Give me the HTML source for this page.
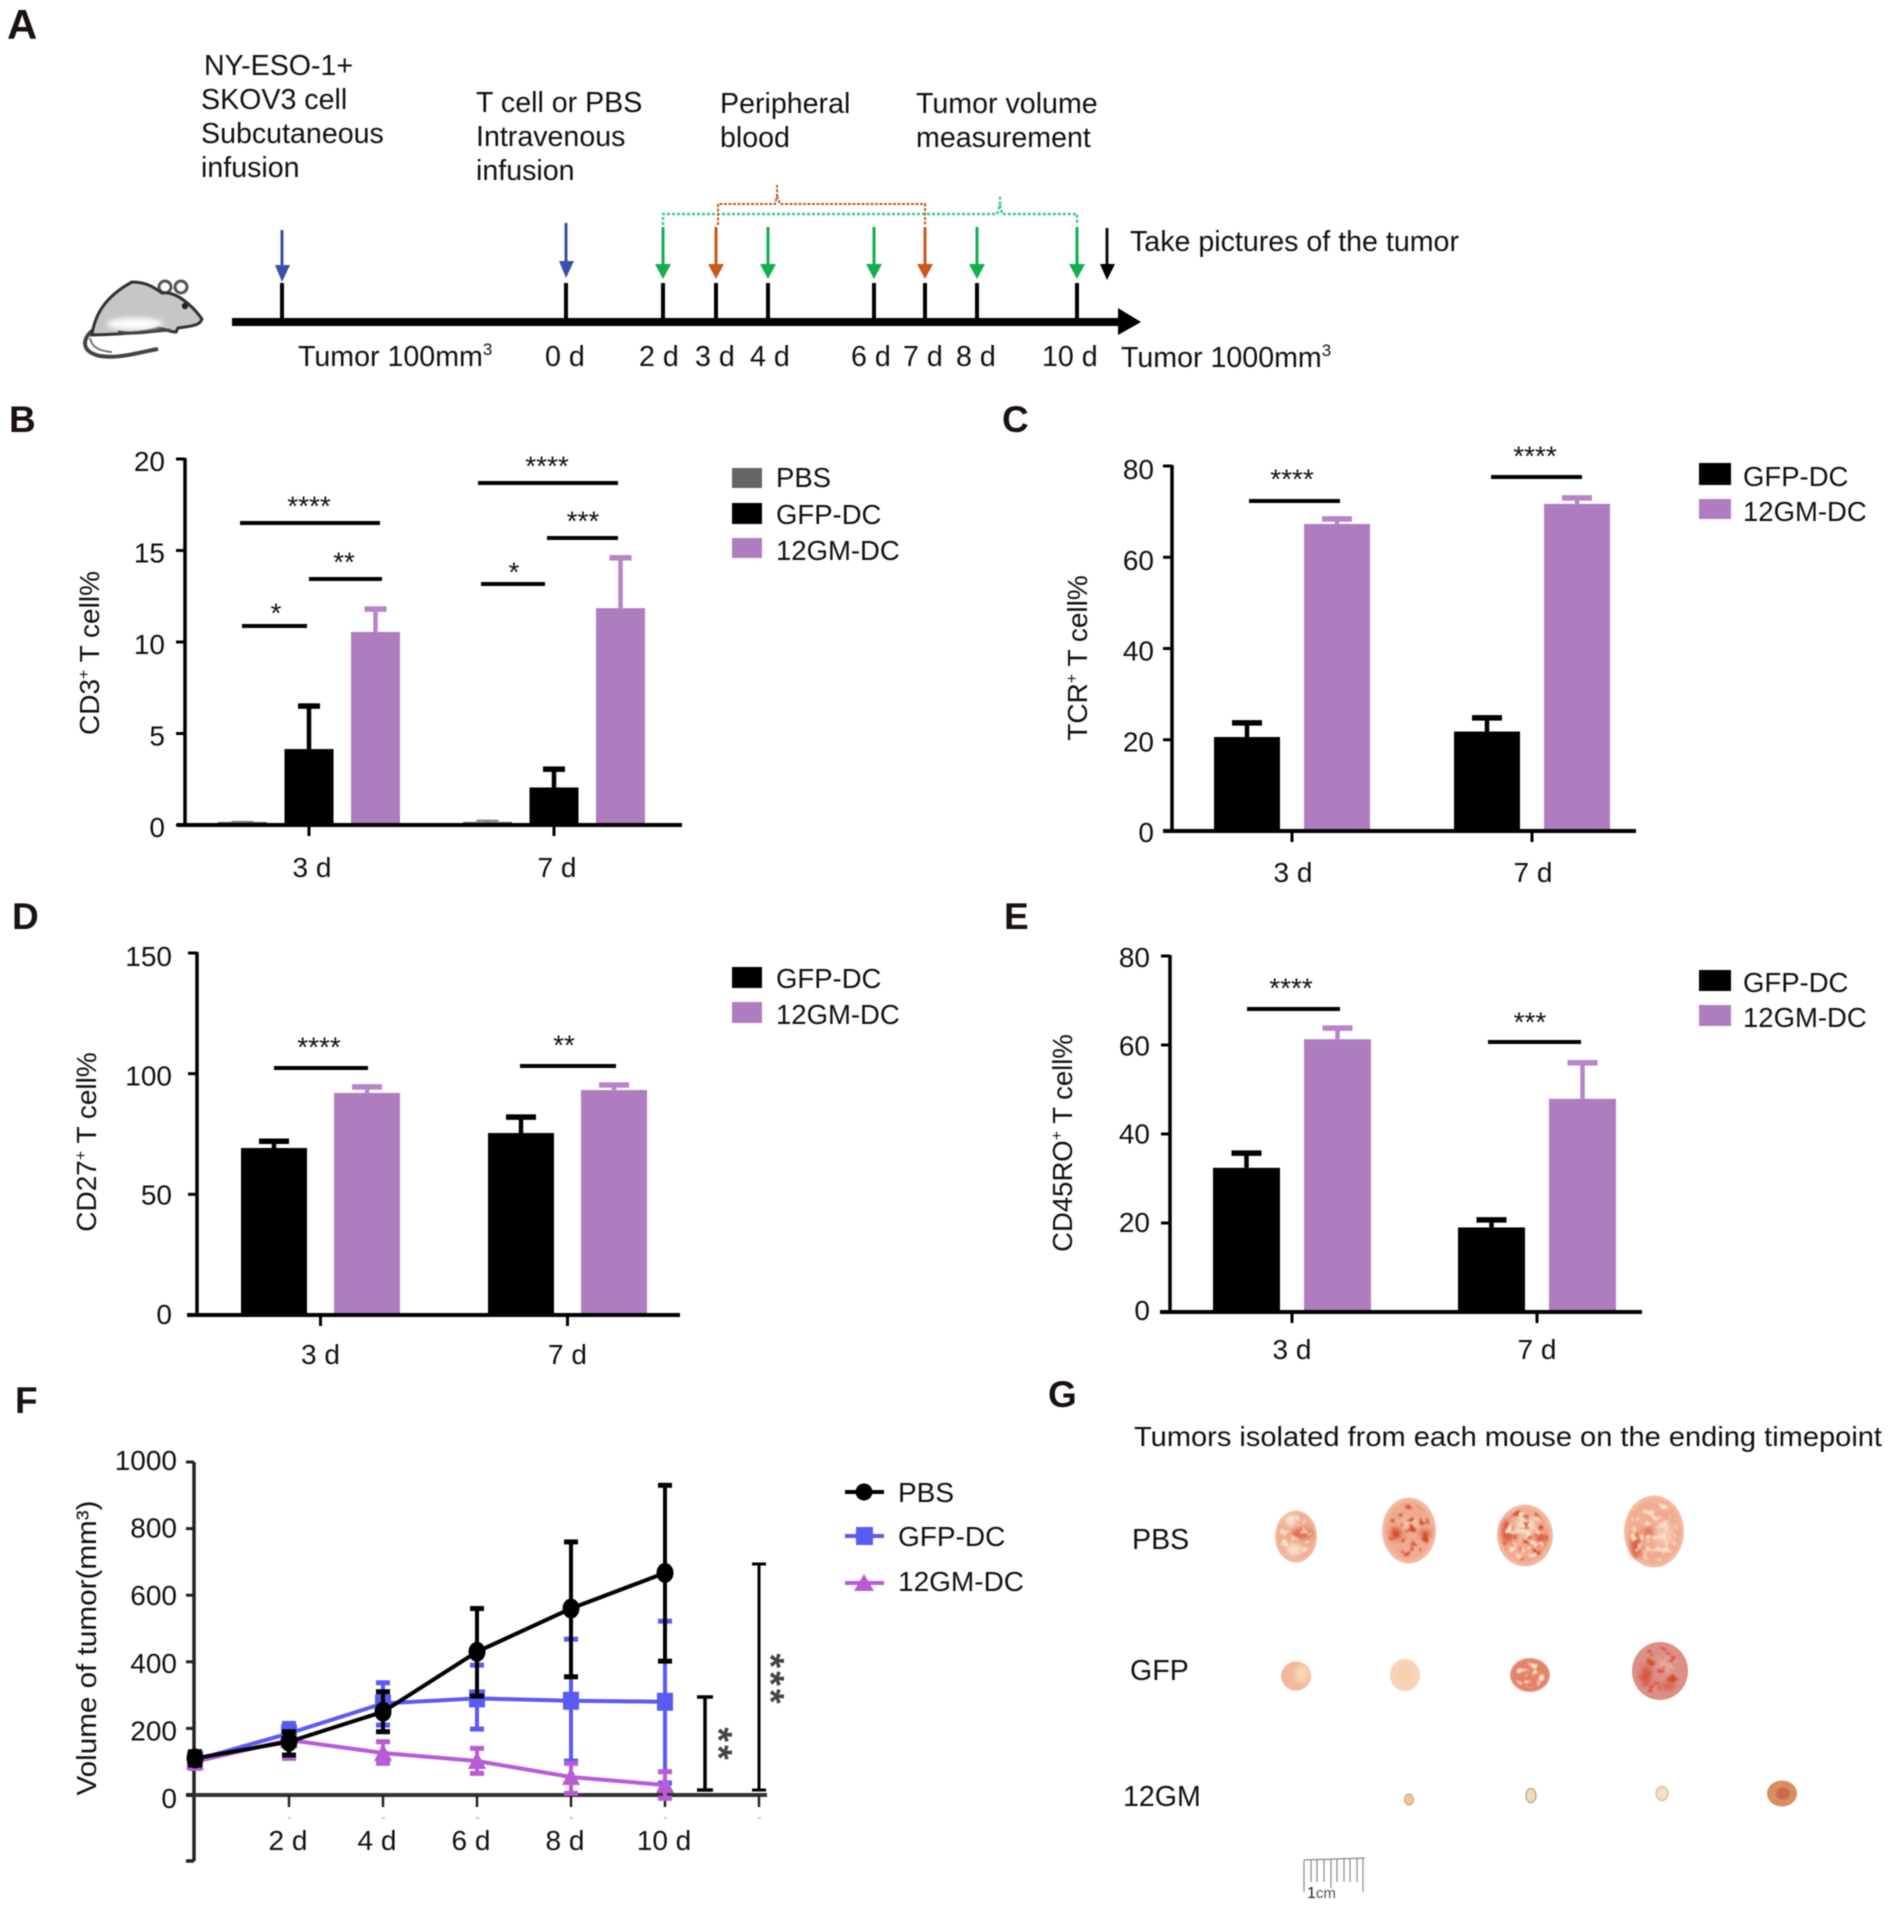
<!DOCTYPE html>
<html lang="en">
<head>
<meta charset="utf-8">
<title>Tumor response figure</title>
<style>
html,body{margin:0;padding:0;background:#fff;width:1890px;height:1914px;overflow:hidden}
svg{display:block;font-family:"Liberation Sans",Arial,sans-serif;fill:#111;filter:blur(0.4px)}
.panel{font-weight:bold;font-size:37px;fill:#1a1210}
.t{font-size:28.6px}
.leg{font-size:27.5px}
.ti{font-size:28px}
.st{font-size:28px;text-anchor:middle}
.sig{stroke:#000;stroke-width:4}
</style>
</head>
<body>
<svg id="fig" xmlns="http://www.w3.org/2000/svg" width="1890" height="1914" viewBox="0 0 1890 1914">
<defs>
<radialGradient id="tg" cx="50%" cy="50%" r="55%"><stop offset="0" stop-color="#f2a98f"/><stop offset="0.75" stop-color="#f0ab92"/><stop offset="1" stop-color="#f8cdb8"/></radialGradient>
<radialGradient id="tp" cx="50%" cy="50%" r="55%"><stop offset="0" stop-color="#f8cfa8"/><stop offset="1" stop-color="#f9d3bf"/></radialGradient>
<radialGradient id="td" cx="50%" cy="50%" r="55%"><stop offset="0" stop-color="#e67f66"/><stop offset="0.8" stop-color="#e2856f"/><stop offset="1" stop-color="#eeb09f"/></radialGradient>
<filter id="bl" x="-30%" y="-30%" width="160%" height="160%"><feGaussianBlur stdDeviation="2.6"/></filter>
<filter id="bs" x="-30%" y="-30%" width="160%" height="160%"><feGaussianBlur stdDeviation="0.8"/></filter>
<filter id="mr" x="0" y="0" width="100%" height="100%" color-interpolation-filters="sRGB"><feTurbulence type="fractalNoise" baseFrequency="0.13" numOctaves="3" seed="7"/><feColorMatrix type="matrix" values="0 0 0 0 .82 0 0 0 0 .30 0 0 0 0 .18 7 0 0 0 -3.9"/><feComposite in2="SourceAlpha" operator="in"/><feGaussianBlur stdDeviation="0.7"/></filter>
<filter id="mc" x="0" y="0" width="100%" height="100%" color-interpolation-filters="sRGB"><feTurbulence type="fractalNoise" baseFrequency="0.16" numOctaves="3" seed="23"/><feColorMatrix type="matrix" values="0 0 0 0 .98 0 0 0 0 .88 0 0 0 0 .78 7 0 0 0 -3.7"/><feComposite in2="SourceAlpha" operator="in"/><feGaussianBlur stdDeviation="0.7"/></filter>
</defs>

<!-- Panel A -->
<g id="panel-a">
<text class="panel" style="font-size:42px" x="7" y="39">A</text>
<text class="t" x="204" y="75">NY-ESO-1+</text>
<text class="t" x="201" y="109">SKOV3 cell</text>
<text class="t" x="201" y="143">Subcutaneous</text>
<text class="t" x="201" y="177">infusion</text>
<text class="t" x="476" y="112">T cell or PBS</text>
<text class="t" x="476" y="146">Intravenous</text>
<text class="t" x="476" y="180">infusion</text>
<text class="t" x="720" y="113">Peripheral</text>
<text class="t" x="720" y="147">blood</text>
<text class="t" x="916" y="113">Tumor volume</text>
<text class="t" x="916" y="147">measurement</text>
<text class="t" x="1130" y="251">Take pictures of the tumor</text>

<g>
<path d="M93,330 C81,340 82,352 100,356 C120,359 140,352 158,349" fill="none" stroke="#444" stroke-width="4"/>
<path d="M90,338 C92,348 100,351 112,352" fill="none" stroke="#777" stroke-width="2"/>
<circle cx="165" cy="287" r="6" fill="#fff" stroke="#555" stroke-width="3"/>
<circle cx="181" cy="287" r="6" fill="#fff" stroke="#555" stroke-width="3"/>
<path d="M92,335 C95,312 108,295 132,282 C147,282 155,288 162,293 C176,291 192,305 202,319 C200,326 190,326 178,328 L176,332 C170,332 165,329 158,328 C145,333 120,334 92,335 Z" fill="#c6c6c6" stroke="#333" stroke-width="3"/>
<ellipse cx="135" cy="324" rx="28" ry="6" fill="#fff" filter="url(#bl)"/>
<path d="M118,332 C135,335 150,331 170,330" fill="none" stroke="#444" stroke-width="3"/>
<circle cx="185" cy="306" r="3.2" fill="#222"/>
</g>

<rect x="232" y="318" width="890" height="8" fill="#000"/>
<polygon points="1118,308 1141,322 1118,335" fill="#000"/>
<g stroke="#000" stroke-width="4">
<line x1="282" x2="282" y1="283" y2="320"/><line x1="566" x2="566" y1="283" y2="320"/><line x1="663" x2="663" y1="283" y2="320"/><line x1="716" x2="716" y1="283" y2="320"/><line x1="768" x2="768" y1="283" y2="320"/><line x1="874" x2="874" y1="283" y2="320"/><line x1="925" x2="925" y1="283" y2="320"/><line x1="977" x2="977" y1="283" y2="320"/><line x1="1077" x2="1077" y1="283" y2="320"/>
</g>
<g fill="#3a4fa8" stroke="none">
<rect x="280.5" y="230" width="3" height="42"/><polygon points="275,265 290,265 282,282"/>
<rect x="564.5" y="223" width="3" height="42"/><polygon points="559,261 574,261 566,278"/>
</g>
<g fill="#13ae4f" stroke="none">
<rect x="661.5" y="227" width="3" height="42"/><polygon points="655,264 671,264 663,279"/>
<rect x="766.5" y="227" width="3" height="42"/><polygon points="760,264 776,264 768,279"/>
<rect x="872.5" y="227" width="3" height="42"/><polygon points="866,264 882,264 874,279"/>
<rect x="975.5" y="227" width="3" height="42"/><polygon points="969,264 985,264 977,279"/>
<rect x="1075.5" y="227" width="3" height="42"/><polygon points="1069,264 1085,264 1077,279"/>
</g>
<g fill="#c8591a" stroke="none">
<rect x="714.5" y="227" width="3" height="42"/><polygon points="708,264 724,264 716,279"/>
<rect x="923.5" y="227" width="3" height="42"/><polygon points="917,264 933,264 925,279"/>
</g>
<g><rect x="1105.5" y="228" width="3" height="40"/><polygon points="1100,264 1115,264 1107,280" fill="#000"/></g>
<path d="M663,225 V214 H997 L1000,205 V197 M1000,205 L1002,214 H1077 V225" fill="none" stroke="#3cc88a" stroke-width="2.4" stroke-dasharray="3 2"/>
<path d="M718,225 V204 H775 L777,196 V185 M777,196 L780,204 H925 V225" fill="none" stroke="#c85a1a" stroke-width="2" stroke-dasharray="3 1.5"/>

<text class="t" x="298" y="366">Tumor 100mm<tspan font-size="17" dy="-11">3</tspan></text>
<text class="t" x="545" y="366">0 d</text>
<text class="t" x="639" y="366">2 d</text>
<text class="t" x="695" y="366">3 d</text>
<text class="t" x="750" y="366">4 d</text>
<text class="t" x="851" y="366">6 d</text>
<text class="t" x="903" y="366">7 d</text>
<text class="t" x="956" y="366">8 d</text>
<text class="t" x="1042" y="366">10 d</text>
<text class="t" x="1121" y="367">Tumor 1000mm<tspan font-size="17" dy="-11">3</tspan></text>
</g>

<!-- Panel labels -->
<text class="panel" x="9" y="432">B</text>
<text class="panel" x="1002" y="432">C</text>
<text class="panel" x="12" y="929">D</text>
<text class="panel" x="1004" y="929">E</text>
<text class="panel" x="15" y="1413">F</text>
<text class="panel" x="1048" y="1407">G</text>

<!-- Panel B static -->
<g id="chart-b">
<text class="ti" transform="translate(99,653) rotate(-90)" text-anchor="middle">CD3<tspan font-size="16" dy="-10">+</tspan><tspan dy="10"> T cell%</tspan></text>
<g>
<line class="sig" x1="240" x2="380" y1="523" y2="523"/><text class="st" x="309" y="515.5">****</text>
<line class="sig" x1="309" x2="382" y1="579" y2="579"/><text class="st" x="344" y="571.5">**</text>
<line class="sig" x1="242" x2="307" y1="626" y2="626"/><text class="st" x="276" y="622.5">*</text>
<line class="sig" x1="478" x2="618" y1="483" y2="483"/><text class="st" x="547" y="475.5">****</text>
<line class="sig" x1="547" x2="618" y1="538" y2="538"/><text class="st" x="583" y="530.5">***</text>
<line class="sig" x1="481" x2="545" y1="584" y2="584"/><text class="st" x="514" y="581.5">*</text>
</g>
<g>
<rect x="732" y="468" width="30" height="20" fill="#666"/><text class="leg" x="776" y="487">PBS</text>
<rect x="732" y="503" width="30" height="21" fill="#000"/><text class="leg" x="776" y="524">GFP-DC</text>
<rect x="732" y="538" width="30" height="20" fill="#b07cc0"/><text class="leg" x="776" y="560">12GM-DC</text>
</g>
</g>

<!-- Panel C static -->
<g id="chart-c">
<text class="ti" font-size="28.5" transform="translate(1087,658) rotate(-90)" text-anchor="middle">TCR<tspan font-size="16" dy="-10">+</tspan><tspan dy="10"> T cell%</tspan></text>
<g>
<line class="sig" x1="1249" x2="1340" y1="501" y2="501"/><text class="st" x="1292" y="488.5">****</text>
<line class="sig" x1="1491" x2="1582" y1="477" y2="477"/><text class="st" x="1535" y="465.5">****</text>
</g>
<g>
<rect x="1699" y="463" width="32" height="22" fill="#000"/><text class="leg" x="1743" y="486">GFP-DC</text>
<rect x="1699" y="499" width="32" height="20" fill="#b07cc0"/><text class="leg" x="1743" y="521">12GM-DC</text>
</g>
</g>

<!-- Panel D static -->
<g id="chart-d">
<text class="ti" transform="translate(96,1142) rotate(-90)" text-anchor="middle">CD27<tspan font-size="16" dy="-10">+</tspan><tspan dy="10"> T cell%</tspan></text>
<g>
<line class="sig" x1="274" x2="368" y1="1068" y2="1068"/><text class="st" x="319" y="1056.5">****</text>
<line class="sig" x1="520" x2="616" y1="1066" y2="1066"/><text class="st" x="564" y="1054.5">**</text>
</g>
<g>
<rect x="732" y="967" width="30" height="21" fill="#000"/><text class="leg" x="776" y="988">GFP-DC</text>
<rect x="732" y="1002" width="30" height="21" fill="#b07cc0"/><text class="leg" x="776" y="1024">12GM-DC</text>
</g>
</g>

<!-- Panel E static -->
<g id="chart-e">
<text class="ti" style="font-size:27.5px" transform="translate(1072,1143) rotate(-90)" text-anchor="middle">CD45RO<tspan font-size="16" dy="-10">+</tspan><tspan dy="10"> T cell%</tspan></text>
<g>
<line class="sig" x1="1247" x2="1340" y1="1009" y2="1009"/><text class="st" x="1291" y="997.5">****</text>
<line class="sig" x1="1488" x2="1581" y1="1042" y2="1042"/><text class="st" x="1530" y="1031.5">***</text>
</g>
<g>
<rect x="1699" y="970" width="32" height="21" fill="#000"/><text class="leg" x="1743" y="992">GFP-DC</text>
<rect x="1699" y="1005" width="32" height="21" fill="#b07cc0"/><text class="leg" x="1743" y="1027">12GM-DC</text>
</g>
</g>

<!-- Panel F static -->
<g id="chart-f">
<text transform="translate(96,1648) rotate(-90)" text-anchor="middle" font-size="28" textLength="295" lengthAdjust="spacingAndGlyphs">Volume of tumor(mm³)</text>
<g>
<path d="M697,1697 H713 M705,1697 V1790 M697,1790 H713" fill="none" stroke="#000" stroke-width="3.5"/>
<path d="M752,1564 H766 M759,1564 V1790 M752,1790 H766" fill="none" stroke="#000" stroke-width="3"/>
<text font-size="38" letter-spacing="3" fill="#444" font-weight="bold" text-anchor="middle" transform="translate(706,1745) rotate(90)" y="0">**</text>
<text font-size="38" letter-spacing="3" fill="#444" font-weight="bold" text-anchor="middle" transform="translate(758,1680) rotate(90)" y="0">***</text>
</g>
<g>
<line x1="845" x2="884" y1="1492" y2="1492" stroke="#000" stroke-width="4"/><circle cx="864" cy="1492" r="8.5" fill="#000"/><text font-size="28" x="898" y="1502">PBS</text>
<line x1="845" x2="884" y1="1536" y2="1536" stroke="#5a5af5" stroke-width="4"/><rect x="856" y="1527" width="17" height="18" fill="#5a5af5"/><text font-size="28" x="898" y="1546">GFP-DC</text>
<line x1="845" x2="884" y1="1583" y2="1583" stroke="#b85cd6" stroke-width="4"/><polygon points="864,1574 874,1591 854,1591" fill="#b85cd6"/><text font-size="28" x="898" y="1591">12GM-DC</text>
</g>
</g>

<!-- Panel G -->
<g id="panel-g">
<text x="1134" y="1446" font-size="28" textLength="748" lengthAdjust="spacingAndGlyphs">Tumors isolated from each mouse on the ending timepoint</text>
<text class="t" x="1132" y="1549">PBS</text>
<text class="t" x="1130" y="1680">GFP</text>
<text class="t" x="1123" y="1806">12GM</text>

<g transform="translate(0,3.5)">
<g><ellipse cx="1296" cy="1533" rx="21" ry="26" fill="url(#tg)"/><g filter="url(#bl)"><ellipse cx="1302" cy="1530" rx="11" ry="5" fill="#d9502f" opacity=".8"/><ellipse cx="1294" cy="1546" rx="8" ry="6" fill="#f8e0c8"/><ellipse cx="1291" cy="1517" rx="6" ry="6" fill="#f8dcc0"/></g><ellipse cx="1296" cy="1533" rx="17" ry="22" filter="url(#mc)"/></g>
<g><ellipse cx="1409" cy="1527" rx="27" ry="33" fill="url(#tg)"/><g filter="url(#bl)"><ellipse cx="1396" cy="1530" rx="6" ry="6" fill="#d44a2b" opacity=".85"/><ellipse cx="1425" cy="1530" rx="6" ry="4" fill="#d9562f" opacity=".85"/><ellipse cx="1410" cy="1520" rx="8" ry="5" fill="#f5c8a8"/></g><ellipse cx="1409" cy="1527" rx="21" ry="27" filter="url(#mr)"/></g>
<g><ellipse cx="1525" cy="1532" rx="28" ry="31" fill="url(#tg)"/><g filter="url(#bl)"><ellipse cx="1507" cy="1528" rx="5" ry="12" fill="#d6452a" opacity=".85"/><ellipse cx="1541" cy="1535" rx="5" ry="7" fill="#d9482b" opacity=".85"/><ellipse cx="1525" cy="1522" rx="10" ry="9" fill="#f8dcc0"/></g><ellipse cx="1525" cy="1532" rx="23" ry="26" filter="url(#mr)"/><ellipse cx="1525" cy="1532" rx="20" ry="24" filter="url(#mc)"/></g>
<g><ellipse cx="1654" cy="1528" rx="30" ry="36" fill="url(#tg)"/><g filter="url(#bl)"><ellipse cx="1636" cy="1542" rx="5" ry="13" fill="#d44a2b" opacity=".85"/><ellipse cx="1650" cy="1528" rx="7" ry="4" fill="#da5a3a" opacity=".8"/><ellipse cx="1664" cy="1530" rx="10" ry="13" fill="#f5c5b0"/></g><ellipse cx="1654" cy="1528" rx="24" ry="30" filter="url(#mc)"/></g>
</g>
<g transform="translate(0,6)">
<g><ellipse cx="1296" cy="1670" rx="15" ry="14.5" fill="#f3b7a0"/><ellipse cx="1302" cy="1668" rx="7" ry="9" fill="#f9d9b0" filter="url(#bl)"/></g>
<g><ellipse cx="1405" cy="1669" rx="15" ry="16" fill="url(#tp)"/></g>
<g><ellipse cx="1530" cy="1669" rx="20" ry="17" fill="url(#td)"/><ellipse cx="1530" cy="1669" rx="15" ry="13" filter="url(#mc)"/></g>
<g><ellipse cx="1660" cy="1665" rx="28" ry="29" fill="#dd8f86"/><g filter="url(#bl)"><ellipse cx="1646" cy="1670" rx="5" ry="10" fill="#d44a33" opacity=".85"/><ellipse cx="1668" cy="1680" rx="7" ry="4" fill="#d9573d" opacity=".85"/><ellipse cx="1667" cy="1658" rx="9" ry="8" fill="#e9a89c"/></g><ellipse cx="1660" cy="1665" rx="23" ry="24" filter="url(#mr)"/></g>
</g>
<g transform="translate(0,8.5)">
<g><ellipse cx="1409" cy="1791" rx="4.5" ry="5.5" fill="#e8c89c" stroke="#d4a876" stroke-width="1.2"/></g>
<g><ellipse cx="1531" cy="1787" rx="5" ry="7" fill="#ecdcc0" stroke="#c8a888" stroke-width="1.4"/></g>
<g><ellipse cx="1662" cy="1785" rx="6" ry="7" fill="#f0e0c8" stroke="#d8bc94" stroke-width="1.2"/></g>
<g><ellipse cx="1782" cy="1785" rx="15" ry="13" fill="#d98e62"/><ellipse cx="1783" cy="1785" rx="7" ry="6" fill="#c96a4a" filter="url(#bs)"/></g>
</g>

<g stroke="#8a8a8a" stroke-width="1.2" transform="translate(0,10)">
<line x1="1304" x2="1365" y1="1850" y2="1848"/>
<line x1="1304" x2="1304" y1="1850" y2="1882"/><line x1="1311" x2="1311" y1="1850" y2="1872"/><line x1="1317" x2="1317" y1="1850" y2="1872"/><line x1="1324" x2="1324" y1="1849" y2="1872"/><line x1="1331" x2="1331" y1="1849" y2="1878"/><line x1="1337" x2="1337" y1="1849" y2="1872"/><line x1="1344" x2="1344" y1="1849" y2="1872"/><line x1="1350" x2="1350" y1="1849" y2="1872"/><line x1="1357" x2="1357" y1="1848" y2="1872"/><line x1="1363" x2="1363" y1="1848" y2="1882"/>
</g>
<text x="1307" y="1898" font-size="15" fill="#555"><tspan fill="#222" font-size="16">1</tspan>cm</text>
</g>

<script>
const barCategories = ['3 d', '7 d'];
const bTicks = [0, 5, 10, 15, 20];
const bPbsValues = [0.17, 0.17];
const bPbsErrors = [0.17, 0.24];
const bGfpValues = [4.15, 2.05];
const bGfpErrors = [6.5, 3.05];
const bGmValues = [10.55, 11.85];
const bGmErrors = [11.8, 14.6];
const cTicks = [0, 20, 40, 60, 80];
const cGfpValues = [20.6, 21.8];
const cGfpErrors = [23.7, 24.8];
const cGmValues = [67.3, 71.7];
const cGmErrors = [68.4, 73];
const dTicks = [0, 50, 100, 150];
const dGfpValues = [69.2, 75.4];
const dGfpErrors = [72, 82];
const dGmValues = [92, 93.2];
const dGmErrors = [94.5, 95.3];
const eTicks = [0, 20, 40, 60, 80];
const eGfpValues = [32.4, 19];
const eGfpErrors = [35.7, 20.7];
const eGmValues = [61.3, 47.9];
const eGmErrors = [63.8, 56];
const fDays = [0, 2, 4, 6, 8, 10];
const fTicks = [0, 200, 400, 600, 800, 1000];
const fXTickDays = [2, 4, 6, 8, 10, 12];
const fXLabels = ['2 d', '4 d', '6 d', '8 d', '10 d', ''];
const fPbsMean = [110, 160, 250, 430, 560, 667];
const fPbsUpper = [130, 190, 310, 560, 760, 930];
const fPbsLower = [90, 120, 190, 297, 355, 402];
const fGfpMean = [105, 185, 275, 290, 283, 280];
const fGfpUpper = [125, 215, 337, 390, 468, 522];
const fGfpLower = [85, 155, 210, 198, 102, 36];
const fGmMean = [100, 165, 126, 102, 54, 30];
const fGmUpper = [120, 185, 160, 140, 95, 70];
const fGmLower = [80, 110, 95, 65, 5, -10];

const NS = 'http://www.w3.org/2000/svg';
const BLACK = '#000000';
const PURPLE = '#b07cc0';
const GREY = '#666666';

function mk(parent, tag, attrs, text) {
  const el = document.createElementNS(NS, tag);
  for (const k in attrs) el.setAttribute(k, attrs[k]);
  if (text !== undefined) el.textContent = text;
  parent.appendChild(el);
  return el;
}

function drawBars(id, o, ticks, cats, series) {
  const root = document.getElementById(id);
  const maxT = ticks[ticks.length - 1];
  const y = v => o.y0 - (v / maxT) * (o.y0 - o.yTop);
  const bx = (c, s) => o.start + c * o.catStep + s * o.seriesStep;
  series.forEach((s, si) => {
    s.values.forEach((v, c) => {
      const x = bx(c, si);
      const cx = x + o.barW / 2;
      const stem = mk(root, 'line', {x1: cx, x2: cx, y1: y(v), y2: y(s.errors[c]), stroke: s.errColor, 'stroke-width': 4.5});
      
      
      const capH = s.name === 'pbs' ? 2 : 5.5;
      const cap = mk(root, 'rect', {x: cx - o.capW / 2, y: y(s.errors[c]) - capH / 2, width: o.capW, height: capH, fill: s.errColor});
      
      
      const bar = mk(root, 'rect', {x: x, y: y(v), width: o.barW, height: o.y0 - y(v), fill: s.color});
      
      
    });
  });
  const yAxis = mk(root, 'line', {x1: o.xAxis, x2: o.xAxis, y1: o.yTop - 1, y2: o.y0, stroke: '#000', 'stroke-width': 3.5});
  
  
  const xAxis = mk(root, 'line', {x1: o.xStart, x2: o.xEnd, y1: o.y0, y2: o.y0, stroke: '#000', 'stroke-width': 4});
  
  
  ticks.forEach(t => {
    const tick = mk(root, 'line', {x1: o.xAxis - 9, x2: o.xAxis, y1: y(t), y2: y(t), stroke: '#000', 'stroke-width': 3});
    
    
    const off = o.labBot + (o.labTop - o.labBot) * (t / maxT);
    const lab = mk(root, 'text', {x: o.labelRight, y: y(t) + off, 'text-anchor': 'end', 'font-size': 28}, String(t));
    
    
  });
  cats.forEach((c, i) => {
    const cx = bx(i, o.tickSeries) + o.barW / 2;
    const tick = mk(root, 'line', {x1: cx, x2: cx, y1: o.y0, y2: o.y0 + 11, stroke: '#000', 'stroke-width': 3});
    
    
    const lab = mk(root, 'text', {x: cx + o.labelShift, y: o.y0 + o.labelDy, 'text-anchor': 'middle', 'font-size': 28}, c);
    
    
  });
}

drawBars('chart-b', {y0: 825, yTop: 459, xAxis: 185, xStart: 177, xEnd: 682, labelRight: 165, start: 218, catStep: 245, seriesStep: 66.5, tickSeries: 1, barW: 49, capW: 22, labTop: 12, labBot: 12, labelShift: 3, labelDy: 52},
  bTicks, barCategories, [
    {name: 'pbs', values: bPbsValues, errors: bPbsErrors, color: GREY, errColor: '#888888'},
    {name: 'gfp', values: bGfpValues, errors: bGfpErrors, color: BLACK, errColor: BLACK},
    {name: '12gm', values: bGmValues, errors: bGmErrors, color: PURPLE, errColor: '#b884c8'}
  ]);
drawBars('chart-c', {y0: 831, yTop: 466, xAxis: 1172, xStart: 1163, xEnd: 1636, labelRight: 1154, start: 1214, catStep: 240, seriesStep: 90, tickSeries: 0.5, barW: 66, capW: 30, labTop: 13, labBot: 11, labelShift: 1, labelDy: 51},
  cTicks, barCategories, [
    {name: 'gfp', values: cGfpValues, errors: cGfpErrors, color: BLACK, errColor: BLACK},
    {name: '12gm', values: cGmValues, errors: cGmErrors, color: PURPLE, errColor: '#b884c8'}
  ]);
drawBars('chart-d', {y0: 1315, yTop: 953, xAxis: 197, xStart: 187, xEnd: 680, labelRight: 172, start: 241, catStep: 247, seriesStep: 93, tickSeries: 0.5, barW: 66, capW: 30, labTop: 13, labBot: 9, labelShift: 0, labelDy: 49},
  dTicks, barCategories, [
    {name: 'gfp', values: dGfpValues, errors: dGfpErrors, color: BLACK, errColor: BLACK},
    {name: '12gm', values: dGmValues, errors: dGmErrors, color: PURPLE, errColor: '#b884c8'}
  ]);
drawBars('chart-e', {y0: 1312, yTop: 956, xAxis: 1170, xStart: 1160, xEnd: 1642, labelRight: 1150, start: 1213, catStep: 245, seriesStep: 91, tickSeries: 0.5, barW: 67, capW: 30, labTop: 11, labBot: 8, labelShift: 0, labelDy: 47},
  eTicks, barCategories, [
    {name: 'gfp', values: eGfpValues, errors: eGfpErrors, color: BLACK, errColor: BLACK},
    {name: '12gm', values: eGmValues, errors: eGmErrors, color: PURPLE, errColor: '#b884c8'}
  ]);

(function drawLineChart() {
  const root = document.getElementById('chart-f');
  const fx = d => 195 + 47 * d;
  const fy = v => 1795 - v * 0.333;
  const yAxis = mk(root, 'line', {x1: 194, x2: 194, y1: 1462, y2: 1861, stroke: '#222', 'stroke-width': 3.5});
  
  
  const cap = mk(root, 'line', {x1: 186, x2: 194, y1: 1861, y2: 1861, stroke: '#222', 'stroke-width': 3.5});
  
  
  const xAxis = mk(root, 'line', {x1: 186, x2: 767, y1: 1795, y2: 1795, stroke: '#333', 'stroke-width': 4});
  
  
  fTicks.forEach(t => {
    const tick = mk(root, 'line', {x1: 186, x2: 194, y1: fy(t), y2: fy(t), stroke: '#222', 'stroke-width': 3});
    
    
    const lab = mk(root, 'text', {x: 177, y: fy(t) + 8 + (1000 - t) * 0.005, 'text-anchor': 'end', 'font-size': 28}, String(t));
    
    
  });
  fXTickDays.forEach((d, i) => {
    const tick = mk(root, 'line', {x1: fx(d), x2: fx(d), y1: 1795, y2: 1807, stroke: '#222', 'stroke-width': 2.5});
    
    
    const dot = mk(root, 'rect', {x: fx(d) - 1, y: 1817, width: 3, height: 2, fill: '#cccccc'});
    
    
    if (fXLabels[i]) {
      const lab = mk(root, 'text', {x: fx(d) + ((i === 0 || i === 4) ? -1 : -6), y: 1850, 'text-anchor': 'middle', 'font-size': 28}, fXLabels[i]);
      
      
    }
  });
  const series = [
    {name: 'gfp', mean: fGfpMean, up: fGfpUpper, low: fGfpLower, color: '#5a5af5'},
    {name: '12gm', mean: fGmMean, up: fGmUpper, low: fGmLower, color: '#b85cd6'},
    {name: 'pbs', mean: fPbsMean, up: fPbsUpper, low: fPbsLower, color: '#000000'}
  ];
  series.forEach(s => {
    const line = mk(root, 'polyline', {points: fDays.map((d, i) => fx(d) + ',' + fy(s.mean[i])).join(' '), fill: 'none', stroke: s.color, 'stroke-width': 4});
    
    
    fDays.forEach((d, i) => {
      const x = fx(d);
      const err = mk(root, 'line', {x1: x, x2: x, y1: fy(s.up[i]), y2: fy(s.low[i]), stroke: s.color, 'stroke-width': 4});
      
      
      const capUp = mk(root, 'rect', {x: x - 7, y: fy(s.up[i]) - 2.5, width: 14, height: 5, fill: s.color});
      
      
      const capLow = mk(root, 'rect', {x: x - 7, y: fy(s.low[i]) - 2.5, width: 14, height: 5, fill: s.color});
      
      
      let m;
      const my = fy(s.mean[i]);
      if (s.name === 'pbs') {
        m = mk(root, 'ellipse', {cx: x, cy: my, rx: 8.5, ry: 10, fill: s.color});
      } else if (s.name === 'gfp') {
        m = mk(root, 'rect', {x: x - 8, y: my - 9, width: 16, height: 18, fill: s.color});
      } else {
        m = mk(root, 'polygon', {points: x + ',' + (my - 10) + ' ' + (x + 9) + ',' + (my + 8) + ' ' + (x - 9) + ',' + (my + 8), fill: s.color});
      }
      
      
    });
  });
})();
</script>
</svg>
</body>
</html>
